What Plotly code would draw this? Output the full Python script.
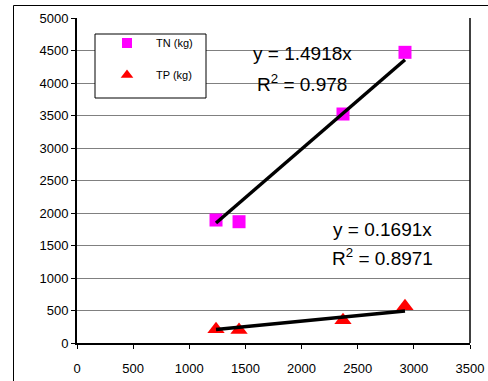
import plotly.graph_objects as go

# Data
flow = [1238, 1443, 2369, 2921]
tn_kg = [1892, 1866, 3523, 4472]
tp_kg = [210, 200, 349, 565]
tn_slope = 1.4918
tp_slope = 0.1691
tn_r2 = "0.978"
tp_r2 = "0.8971"
x_ticks = [0, 500, 1000, 1500, 2000, 2500, 3000, 3500]
y_ticks = list(range(0, 5001, 500))

W, H = 488, 381
L, R, T, B = 77, 18, 18, 38
pw, ph = W - L - R, H - T - B

def px(x):  # pixel -> paper x
    return (x - L) / pw

def py(y):  # pixel -> paper y
    return (H - B - y) / ph

def dx(x):  # pixel -> data x
    return px(x) * 3500

def dy(y):  # pixel -> data y
    return py(y) * 5000

font_fam = "Arial, Liberation Sans, sans-serif"

fig = go.Figure()

fig.add_trace(go.Scatter(x=flow, y=tn_kg, mode="markers", name="TN (kg)",
                         marker=dict(symbol="square", size=13, color="#FF00FF", line=dict(width=0))))
fig.add_trace(go.Scatter(x=flow, y=tp_kg, mode="markers", name="TP (kg)",
                         marker=dict(symbol="triangle-up", size=15, color="#FF0000", line=dict(width=0))))

xmin, xmax = min(flow), max(flow)
fig.add_trace(go.Scatter(x=[xmin, xmax], y=[tn_slope * xmin, tn_slope * xmax], mode="lines",
                         line=dict(color="black", width=3.5), showlegend=False))
fig.add_trace(go.Scatter(x=[xmin, xmax], y=[tp_slope * xmin, tp_slope * xmax], mode="lines",
                         line=dict(color="black", width=3.5), showlegend=False))

# custom legend markers on overlay axes
fig.add_trace(go.Scatter(x=[px(127)], y=[py(43)], mode="markers", xaxis="x2", yaxis="y2",
                         marker=dict(symbol="square", size=10, color="#FF00FF"), showlegend=False))
fig.add_trace(go.Scatter(x=[px(127)], y=[py(75)], mode="markers", xaxis="x2", yaxis="y2",
                         marker=dict(symbol="triangle-up", size=11, color="#FF0000"), showlegend=False))

annotations = [
    dict(text="TN (kg)", x=px(154), y=py(43), xanchor="left", yanchor="middle"),
    dict(text="TP (kg)", x=px(154), y=py(75), xanchor="left", yanchor="middle"),
]
for a in annotations:
    a.update(xref="paper", yref="paper", showarrow=False, font=dict(family=font_fam, size=11, color="black"))

eq = [
    (f"y = {tn_slope}x", 302, 54),
    (f"R<sup>2</sup> = {tn_r2}", 302, 83),
    (f"y = {tp_slope}x", 382, 229),
    (f"R<sup>2</sup> = {tp_r2}", 382, 257),
]
for txt, x, y in eq:
    annotations.append(dict(text=txt, x=px(x), y=py(y), xref="paper", yref="paper",
                            showarrow=False, xanchor="center", yanchor="middle",
                            font=dict(family=font_fam, size=19, color="black")))

shapes = [
    # legend box (between grid and traces)
    dict(type="rect", xref="x", yref="y", x0=dx(95), x1=dx(206), y0=dy(98), y1=dy(34),
         line=dict(color="black", width=1), fillcolor="white", layer="between"),
    # outer chart border
    dict(type="line", xref="paper", yref="paper", x0=px(13.5), x1=px(13.5), y0=py(5.5), y1=py(400),
         line=dict(color="black", width=1)),
    dict(type="line", xref="paper", yref="paper", x0=px(13.5), x1=px(500), y0=py(5.5), y1=py(5.5),
         line=dict(color="black", width=1)),
    # right border of plot area
    dict(type="line", xref="paper", yref="paper", x0=1, x1=1, y0=0, y1=1,
         line=dict(color="black", width=1.5)),
]

fig.update_layout(
    width=W, height=H,
    margin=dict(l=L, r=R, t=T, b=B),
    paper_bgcolor="white", plot_bgcolor="white",
    showlegend=False,
    font=dict(family=font_fam, size=13, color="black"),
    xaxis=dict(range=[0, 3500], tickvals=x_ticks, showgrid=False, zeroline=False,
               showline=True, linecolor="black", linewidth=2, ticks="outside", ticklen=4,
               tickcolor="black", tickwidth=1, tickfont=dict(size=13), ticklabelstandoff=8,
               automargin=False),
    yaxis=dict(range=[0, 5000], tickvals=y_ticks, showgrid=True, gridcolor="#808080", gridwidth=1,
               zeroline=False, showline=True, linecolor="black", linewidth=2, ticks="outside",
               ticklen=4, tickcolor="black", tickwidth=1, tickfont=dict(size=13), automargin=False),
    xaxis2=dict(range=[0, 1], overlaying="x", visible=False, anchor="y2"),
    yaxis2=dict(range=[0, 1], overlaying="y", visible=False, anchor="x2"),
    annotations=annotations,
    shapes=shapes,
)

fig.write_html("out.html")
